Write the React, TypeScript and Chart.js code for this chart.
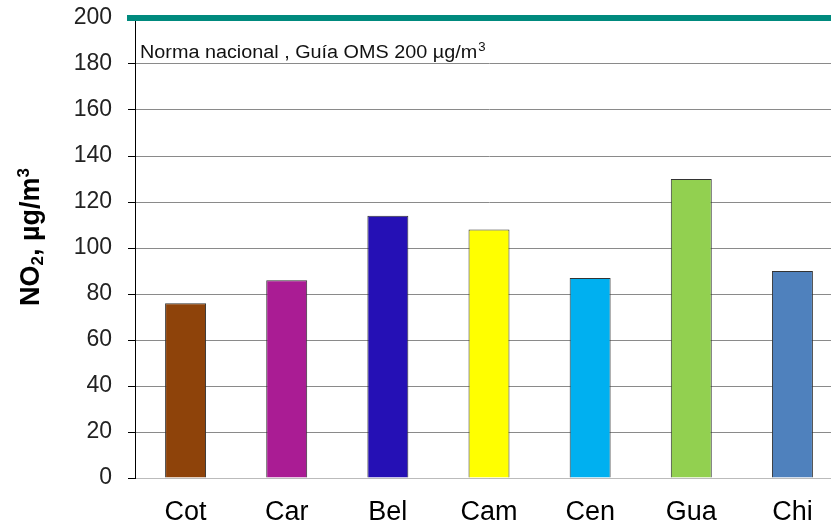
import React, { useEffect, useRef } from "react";
import { Chart, registerables } from "chart.js";

Chart.register(...registerables);

const categories = ["Cot", "Car", "Bel", "Cam", "Cen", "Gua", "Chi"];
const no2Values = [76, 86, 114, 108, 87, 130, 90];
const barColors = ["#8e430a", "#aa1c94", "#2510b5", "#ffff00", "#00b0f0", "#92d050", "#4f81bd"];
const normLimit = 200;
const normLabel = "Norma nacional , Guía OMS 200 µg/m";
const normLabelSup = "3";
const yTitleParts = [
  { text: "NO", kind: "normal" },
  { text: "2", kind: "sub" },
  { text: ", µg/m", kind: "normal" },
  { text: "3", kind: "sup" },
];

const FONT = "'Liberation Sans', Arial, sans-serif";

const overlayPlugin = {
  id: "overlay",
  afterDatasetsDraw(chart: any) {
    const ctx = chart.ctx;
    const y = chart.scales.y.getPixelForValue(normLimit);
    ctx.save();
    // norm line
    ctx.strokeStyle = "#008a7e";
    ctx.lineWidth = 6;
    ctx.beginPath();
    ctx.moveTo(127, y);
    ctx.lineTo(chart.width, y);
    ctx.stroke();
    // label
    ctx.save();
    ctx.fillStyle = "#111";
    ctx.textBaseline = "alphabetic";
    ctx.textAlign = "left";
    const lx = chart.chartArea.left + 5;
    const ly = y + 40;
    ctx.translate(lx, ly);
    ctx.scale(1.1, 1);
    ctx.font = `18px ${FONT}`;
    ctx.fillText(normLabel, 0, 0);
    const w = ctx.measureText(normLabel).width;
    ctx.font = `12px ${FONT}`;
    ctx.fillText(normLabelSup, w + 1, -7);
    ctx.restore();
    // y title
    ctx.translate(30, 237);
    ctx.rotate(-Math.PI / 2);
    const big = `bold 27px ${FONT}`;
    const small = `bold 17px ${FONT}`;
    let total = 0;
    for (const p of yTitleParts) {
      ctx.font = p.kind === "normal" ? big : small;
      total += ctx.measureText(p.text).width;
    }
    let x = -total / 2;
    ctx.fillStyle = "#000";
    for (const p of yTitleParts) {
      ctx.font = p.kind === "normal" ? big : small;
      const dy = p.kind === "sub" ? 13 : p.kind === "sup" ? -1 : 9;
      ctx.fillText(p.text, x, dy);
      x += ctx.measureText(p.text).width;
    }
    ctx.restore();
  },
};

export default function App() {
  const ref = useRef<HTMLCanvasElement | null>(null);
  useEffect(() => {
    if (!ref.current) return;
    const chart = new Chart(ref.current, {
      type: "bar",
      data: {
        labels: categories,
        datasets: [
          {
            data: no2Values,
            backgroundColor: barColors,
            borderColor: "#333",
            borderWidth: 1,
            barPercentage: 0.405,
            categoryPercentage: 1,
          },
        ],
      },
      options: {
        animation: false,
        responsive: true,
        maintainAspectRatio: false,
        layout: { padding: { top: 18, left: 0, right: 0, bottom: 0 } },
        plugins: { legend: { display: false }, tooltip: { enabled: false } },
        scales: {
          x: {
            grid: { display: false, drawTicks: false },
            border: { color: "#bbb", width: 1 },
            ticks: { color: "#000", padding: 18, font: { family: FONT, size: 27 } },
            afterFit(scale: any) {
              scale.height = 47;
              scale.paddingLeft = 0;
              scale.paddingRight = 0;
            },
          },
          y: {
            min: 0,
            max: 200,
            ticks: { stepSize: 20, padding: 16, color: "#222", font: { family: FONT, size: 23 } },
            grid: { color: "#8a8a8a", tickLength: 7, tickColor: "#000" },
            border: { color: "#000", width: 1 },
            afterFit(scale: any) {
              scale.width = 135;
              scale.paddingTop = 0;
              scale.paddingBottom = 0;
            },
          },
        },
      },
      plugins: [overlayPlugin],
    });
    return () => chart.destroy();
  }, []);
  return (
    <div style={{ position: "fixed", left: 0, top: 0, width: 843, height: 525, background: "#fff" }}>
      <canvas ref={ref} />
    </div>
  );
}
